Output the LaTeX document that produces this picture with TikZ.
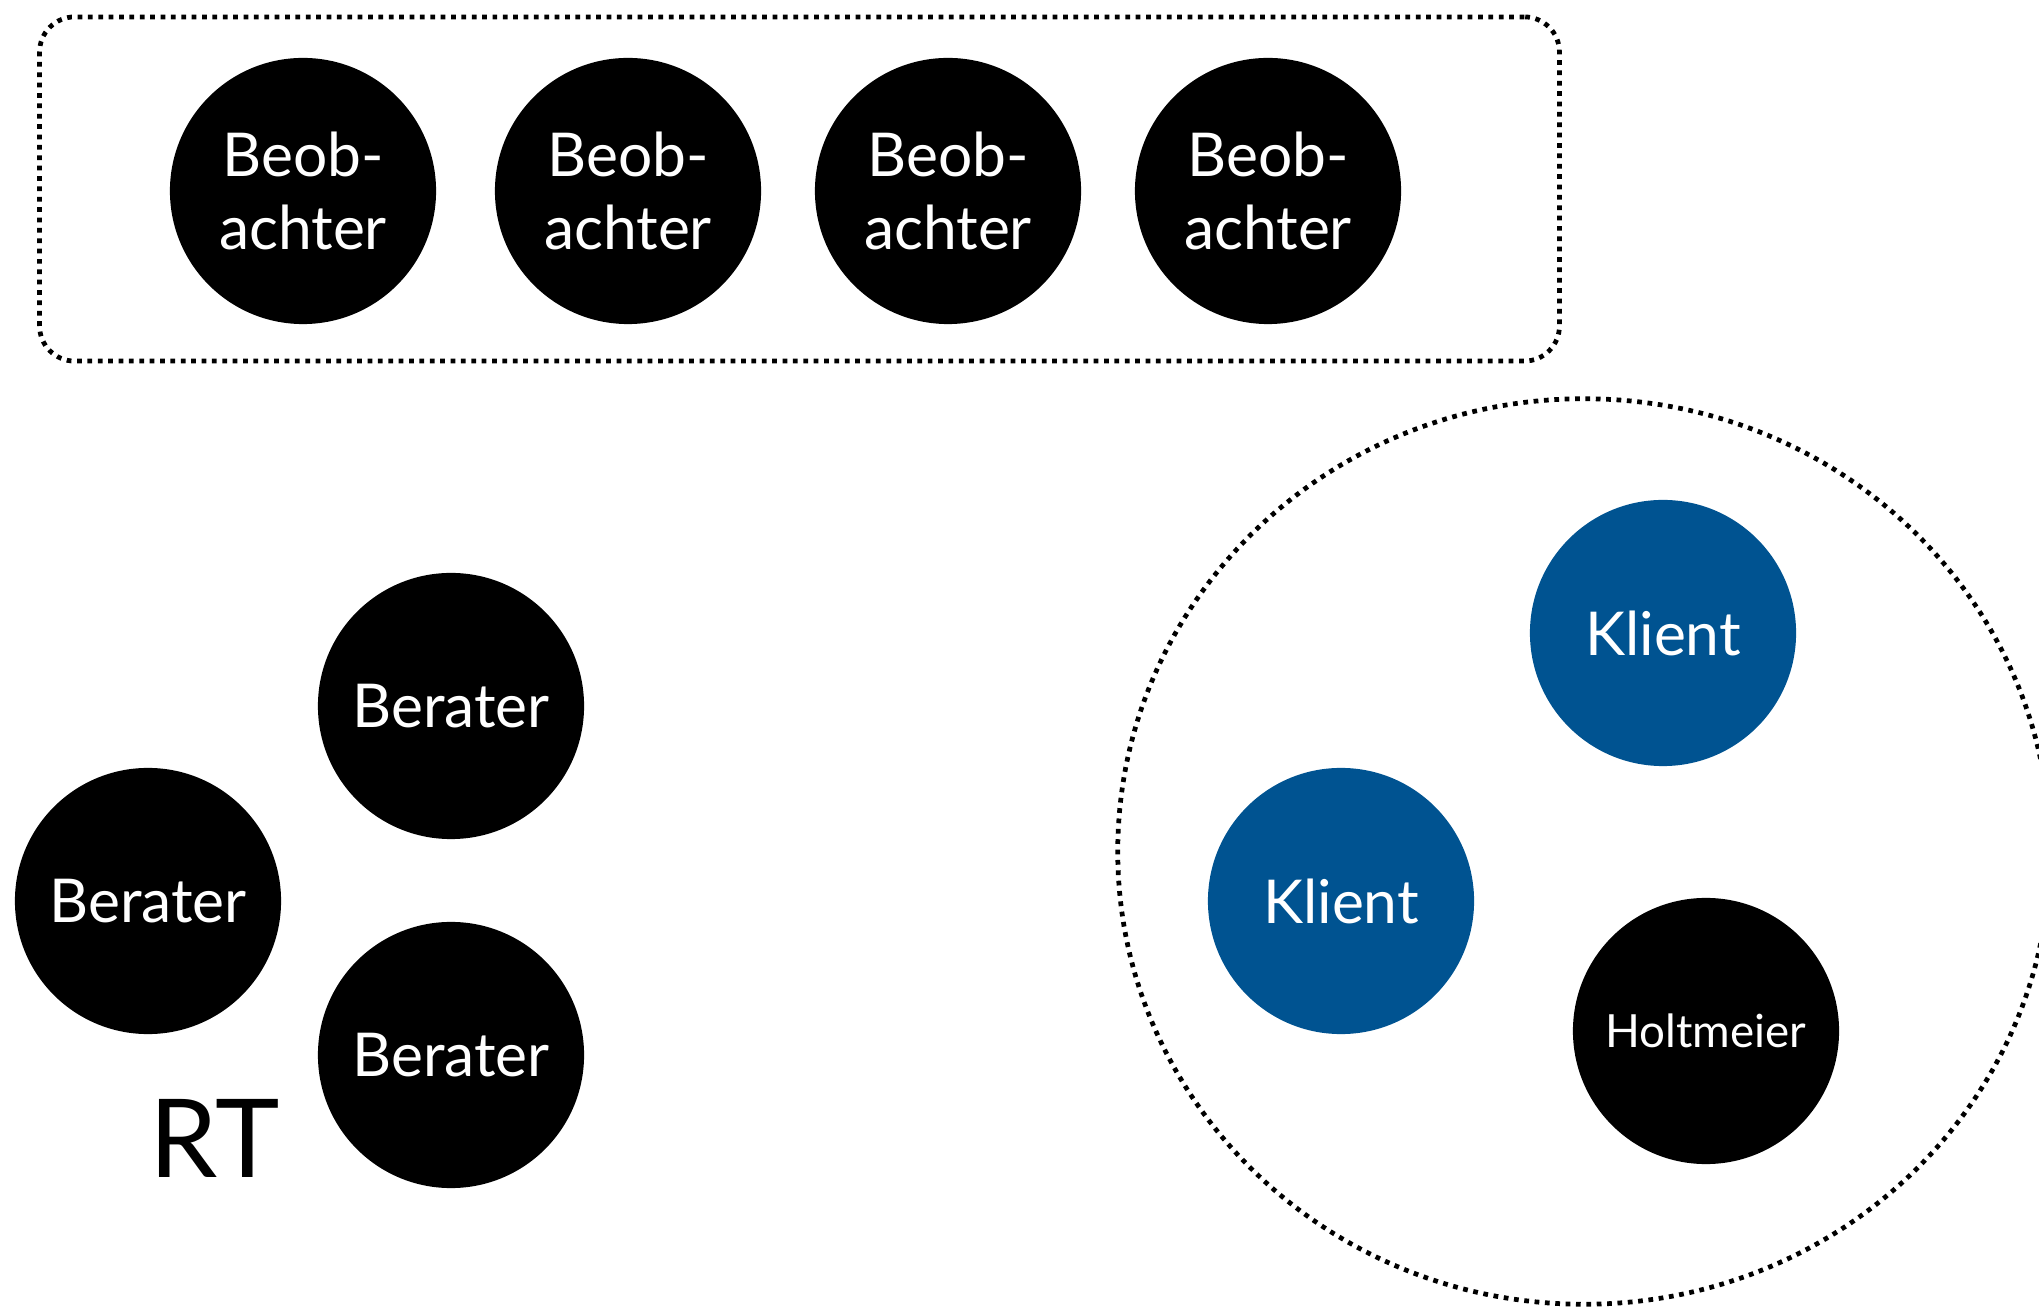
\documentclass[tikz,border=0pt]{standalone}
\usepackage{fontspec}
\setmainfont{Lato}
\usetikzlibrary{shapes.geometric}
\definecolor{klientblue}{RGB}{0,83,145}
\tikzset{
  person/.style={circle, fill=black, text=white, minimum size=2.66cm, inner sep=0pt, align=center, font=\fontsize{17.2}{21}\selectfont},
  klient/.style={person, fill=klientblue},
  dotframe/.style={draw=black, line width=1.35pt, dash pattern=on 1.35pt off 1.6pt, inner sep=0pt},
}
\begin{document}
\begin{tikzpicture}[x=0.01cm, y=-0.01cm]
\useasboundingbox (0,0) rectangle (2039,1307);
% observer frame
\node[dotframe, rectangle, rounded corners=10pt, minimum width=15.19cm, minimum height=3.44cm] (obsframe) at (799.5,189) {};
\node[person] (b1) at (303,191) {Beob-\\achter};
\node[person] (b2) at (628,191) {Beob-\\achter};
\node[person] (b3) at (948,191) {Beob-\\achter};
\node[person] (b4) at (1268,191) {Beob-\\achter};
% Berater
\node[person] (r1) at (451,706) {Berater};
\node[person] (r2) at (148,901) {Berater};
\node[person] (r3) at (451,1055) {Berater};
\node[font=\fontsize{31}{36}\selectfont, inner sep=0pt, anchor=base] (rt) at (215,1177) {RT};
% client system
\node[dotframe, ellipse, minimum width=9.32cm, minimum height=9.05cm] (sys) at (1584,851.5) {};
\node[klient] (k1) at (1663,633) {Klient};
\node[klient] (k2) at (1341,901) {Klient};
\node[person, font=\fontsize{13}{16}\selectfont] (h) at (1706,1031) {Holtmeier};
\end{tikzpicture}
\end{document}
